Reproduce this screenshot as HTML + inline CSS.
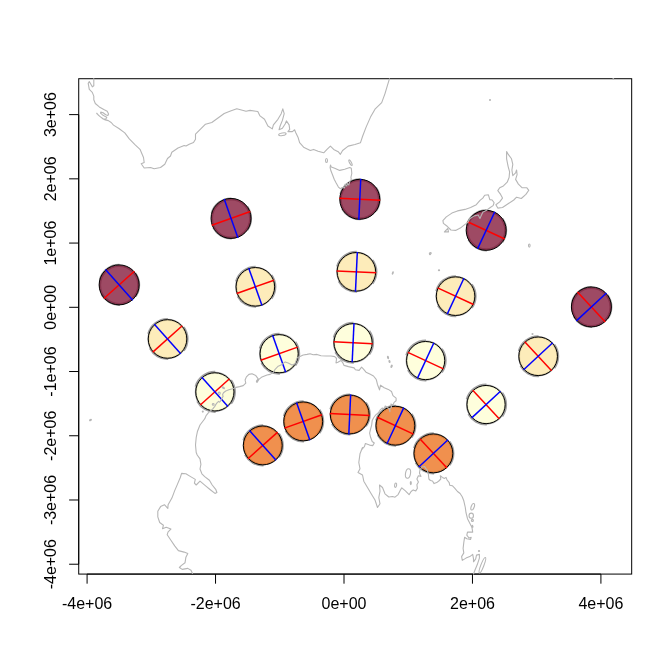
<!DOCTYPE html>
<html lang="en">
<head>
<meta charset="utf-8">
<title>Tissot indicatrix plot</title>
<style>
html,body{margin:0;padding:0;background:#fff;}
body{width:672px;height:672px;overflow:hidden;}
svg{display:block;}
text{font-family:"Liberation Sans",sans-serif;font-size:16px;fill:#000;}
</style>
</head>
<body>
<svg width="672" height="672" viewBox="0 0 672 672">
<rect width="672" height="672" fill="#fff"/>
<g fill="none" stroke="#a6a6a6" stroke-width="2.1">
<circle cx="119.14" cy="284.88" r="19.05"/>
<circle cx="231.04" cy="218.43" r="19.05"/>
<circle cx="359.78" cy="199.31" r="19.05"/>
<circle cx="486.17" cy="230.35" r="19.05"/>
<circle cx="591.4" cy="306.94" r="19.05"/>
<circle cx="167.54" cy="338.96" r="19.05"/>
<circle cx="255.36" cy="286.82" r="19.05"/>
<circle cx="356.39" cy="271.81" r="19.05"/>
<circle cx="455.58" cy="296.17" r="19.05"/>
<circle cx="538.17" cy="356.28" r="19.05"/>
<circle cx="214.89" cy="391.88" r="19.05"/>
<circle cx="279.15" cy="353.72" r="19.05"/>
<circle cx="353.08" cy="342.74" r="19.05"/>
<circle cx="425.66" cy="360.57" r="19.05"/>
<circle cx="486.08" cy="404.55" r="19.05"/>
<circle cx="262.79" cy="445.41" r="19.05"/>
<circle cx="303.22" cy="421.4" r="19.05"/>
<circle cx="349.73" cy="414.49" r="19.05"/>
<circle cx="395.39" cy="425.71" r="19.05"/>
<circle cx="433.4" cy="453.38" r="19.05"/>
</g>
<g fill="none" stroke="#a0a0a0" stroke-width="1.6">
<path d="M135.52,296.78A20.25,20.25 0 0 0 135.52,272.98M119.49,264.63A20.25,20.25 0 0 0 99.58,279.64M101.26,294.39A20.25,20.25 0 0 0 119.84,305.12"/>
<path d="M247.43,230.34A20.25,20.25 0 0 0 247.43,206.53M231.4,198.19A20.25,20.25 0 0 0 211.48,213.19M213.16,227.94A20.25,20.25 0 0 0 231.75,238.67"/>
<path d="M376.16,211.21A20.25,20.25 0 0 0 376.16,187.4M360.13,179.06A20.25,20.25 0 0 0 340.22,194.07M341.9,208.81A20.25,20.25 0 0 0 360.49,219.55"/>
<path d="M502.55,242.25A20.25,20.25 0 0 0 502.55,218.45M486.53,210.11A20.25,20.25 0 0 0 466.61,225.11M468.29,239.86A20.25,20.25 0 0 0 486.88,250.59"/>
<path d="M607.78,318.85A20.25,20.25 0 0 0 607.78,295.04M591.75,286.7A20.25,20.25 0 0 0 571.84,301.7M573.52,316.45A20.25,20.25 0 0 0 592.1,327.18"/>
<path d="M183.92,350.87A20.25,20.25 0 0 0 183.92,327.06M167.89,318.72A20.25,20.25 0 0 0 147.98,333.72M149.66,348.47A20.25,20.25 0 0 0 168.24,359.2"/>
<path d="M271.74,298.72A20.25,20.25 0 0 0 271.74,274.91M255.71,266.57A20.25,20.25 0 0 0 235.8,281.58M237.48,296.32A20.25,20.25 0 0 0 256.07,307.06"/>
<path d="M372.78,283.71A20.25,20.25 0 0 0 372.78,259.91M356.75,251.56A20.25,20.25 0 0 0 336.83,266.57M338.51,281.32A20.25,20.25 0 0 0 357.1,292.05"/>
<path d="M471.97,308.07A20.25,20.25 0 0 0 471.97,284.27M455.94,275.93A20.25,20.25 0 0 0 436.02,290.93M437.7,305.68A20.25,20.25 0 0 0 456.29,316.41"/>
<path d="M554.55,368.18A20.25,20.25 0 0 0 554.55,344.38M538.52,336.03A20.25,20.25 0 0 0 518.61,351.04M520.29,365.79A20.25,20.25 0 0 0 538.87,376.52"/>
<path d="M231.27,403.78A20.25,20.25 0 0 0 231.27,379.98M215.24,371.63A20.25,20.25 0 0 0 195.33,386.64M197.01,401.39A20.25,20.25 0 0 0 215.6,412.12"/>
<path d="M295.54,365.63A20.25,20.25 0 0 0 295.54,341.82M279.51,333.48A20.25,20.25 0 0 0 259.59,348.48M261.27,363.23A20.25,20.25 0 0 0 279.86,373.96"/>
<path d="M369.46,354.64A20.25,20.25 0 0 0 369.46,330.84M353.43,322.49A20.25,20.25 0 0 0 333.52,337.5M335.2,352.25A20.25,20.25 0 0 0 353.79,362.98"/>
<path d="M442.04,372.47A20.25,20.25 0 0 0 442.04,348.67M426.01,340.32A20.25,20.25 0 0 0 406.1,355.33M407.78,370.08A20.25,20.25 0 0 0 426.37,380.81"/>
<path d="M502.47,416.45A20.25,20.25 0 0 0 502.47,392.65M486.44,384.3A20.25,20.25 0 0 0 466.52,399.31M468.2,414.06A20.25,20.25 0 0 0 486.79,424.79"/>
<path d="M279.17,457.31A20.25,20.25 0 0 0 279.17,433.5M263.14,425.16A20.25,20.25 0 0 0 243.23,440.17M244.91,454.91A20.25,20.25 0 0 0 263.5,465.64"/>
<path d="M319.6,433.3A20.25,20.25 0 0 0 319.6,409.5M303.57,401.15A20.25,20.25 0 0 0 283.66,416.16M285.34,430.91A20.25,20.25 0 0 0 303.93,441.64"/>
<path d="M366.11,426.4A20.25,20.25 0 0 0 366.11,402.59M350.08,394.25A20.25,20.25 0 0 0 330.17,409.25M331.85,424A20.25,20.25 0 0 0 350.43,434.73"/>
<path d="M411.77,437.61A20.25,20.25 0 0 0 411.77,413.81M395.74,405.46A20.25,20.25 0 0 0 375.83,420.47M377.51,435.21A20.25,20.25 0 0 0 396.09,445.95"/>
<path d="M449.78,465.28A20.25,20.25 0 0 0 449.78,441.48M433.75,433.13A20.25,20.25 0 0 0 413.84,448.14M415.52,462.88A20.25,20.25 0 0 0 434.11,473.62"/>
</g>
<circle cx="119.14" cy="284.88" r="20.0" fill="#7E0E30" fill-opacity="0.75" stroke="#000" stroke-width="1"/>
<line x1="103.86" y1="298.55" x2="134.41" y2="271.21" stroke="#ff0000" stroke-width="1.5"/>
<line x1="132.81" y1="300.16" x2="105.46" y2="269.6" stroke="#0000ff" stroke-width="1.5"/>
<circle cx="231.04" cy="218.43" r="20.0" fill="#7E0E30" fill-opacity="0.75" stroke="#000" stroke-width="1"/>
<line x1="211.73" y1="225.3" x2="250.36" y2="211.56" stroke="#ff0000" stroke-width="1.5"/>
<line x1="237.91" y1="237.75" x2="224.18" y2="199.12" stroke="#0000ff" stroke-width="1.5"/>
<circle cx="359.78" cy="199.31" r="20.0" fill="#7E0E30" fill-opacity="0.75" stroke="#000" stroke-width="1"/>
<line x1="339.3" y1="198.35" x2="380.26" y2="200.26" stroke="#ff0000" stroke-width="1.5"/>
<line x1="358.82" y1="219.79" x2="360.74" y2="178.83" stroke="#0000ff" stroke-width="1.5"/>
<circle cx="486.17" cy="230.35" r="20.0" fill="#7E0E30" fill-opacity="0.75" stroke="#000" stroke-width="1"/>
<line x1="467.58" y1="221.71" x2="504.76" y2="238.99" stroke="#ff0000" stroke-width="1.5"/>
<line x1="477.53" y1="248.94" x2="494.81" y2="211.76" stroke="#0000ff" stroke-width="1.5"/>
<circle cx="591.4" cy="306.94" r="20.0" fill="#7E0E30" fill-opacity="0.75" stroke="#000" stroke-width="1"/>
<line x1="577.46" y1="291.91" x2="605.33" y2="321.98" stroke="#ff0000" stroke-width="1.5"/>
<line x1="576.36" y1="320.88" x2="606.43" y2="293.01" stroke="#0000ff" stroke-width="1.5"/>
<circle cx="167.54" cy="338.96" r="19.3" fill="#FCE6A3" fill-opacity="0.75" stroke="#000" stroke-width="1"/>
<line x1="152.78" y1="352.17" x2="182.29" y2="325.76" stroke="#ff0000" stroke-width="1.5"/>
<line x1="180.74" y1="353.72" x2="154.33" y2="324.21" stroke="#0000ff" stroke-width="1.5"/>
<circle cx="255.36" cy="286.82" r="19.3" fill="#FCE6A3" fill-opacity="0.75" stroke="#000" stroke-width="1"/>
<line x1="236.71" y1="293.45" x2="274.02" y2="280.18" stroke="#ff0000" stroke-width="1.5"/>
<line x1="262" y1="305.47" x2="248.73" y2="268.16" stroke="#0000ff" stroke-width="1.5"/>
<circle cx="356.39" cy="271.81" r="19.3" fill="#FCE6A3" fill-opacity="0.75" stroke="#000" stroke-width="1"/>
<line x1="336.61" y1="270.88" x2="376.17" y2="272.73" stroke="#ff0000" stroke-width="1.5"/>
<line x1="355.47" y1="291.59" x2="357.32" y2="252.03" stroke="#0000ff" stroke-width="1.5"/>
<circle cx="455.58" cy="296.17" r="19.3" fill="#FCE6A3" fill-opacity="0.75" stroke="#000" stroke-width="1"/>
<line x1="437.63" y1="287.83" x2="473.54" y2="304.52" stroke="#ff0000" stroke-width="1.5"/>
<line x1="447.24" y1="314.13" x2="463.93" y2="278.22" stroke="#0000ff" stroke-width="1.5"/>
<circle cx="538.17" cy="356.28" r="19.3" fill="#FCE6A3" fill-opacity="0.75" stroke="#000" stroke-width="1"/>
<line x1="524.71" y1="341.76" x2="551.62" y2="370.8" stroke="#ff0000" stroke-width="1.5"/>
<line x1="523.64" y1="369.74" x2="552.69" y2="342.82" stroke="#0000ff" stroke-width="1.5"/>
<circle cx="214.89" cy="391.88" r="19.1" fill="#FEFED0" fill-opacity="0.75" stroke="#000" stroke-width="1"/>
<line x1="200.28" y1="404.95" x2="229.5" y2="378.81" stroke="#ff0000" stroke-width="1.5"/>
<line x1="227.96" y1="406.49" x2="201.82" y2="377.27" stroke="#0000ff" stroke-width="1.5"/>
<circle cx="279.15" cy="353.72" r="19.1" fill="#FEFED0" fill-opacity="0.75" stroke="#000" stroke-width="1"/>
<line x1="260.69" y1="360.29" x2="297.62" y2="347.16" stroke="#ff0000" stroke-width="1.5"/>
<line x1="285.72" y1="372.19" x2="272.59" y2="335.26" stroke="#0000ff" stroke-width="1.5"/>
<circle cx="353.08" cy="342.74" r="19.1" fill="#FEFED0" fill-opacity="0.75" stroke="#000" stroke-width="1"/>
<line x1="333.5" y1="341.83" x2="372.66" y2="343.66" stroke="#ff0000" stroke-width="1.5"/>
<line x1="352.16" y1="362.32" x2="353.99" y2="323.16" stroke="#0000ff" stroke-width="1.5"/>
<circle cx="425.66" cy="360.57" r="19.1" fill="#FEFED0" fill-opacity="0.75" stroke="#000" stroke-width="1"/>
<line x1="407.88" y1="352.31" x2="443.43" y2="368.83" stroke="#ff0000" stroke-width="1.5"/>
<line x1="417.4" y1="378.34" x2="433.92" y2="342.79" stroke="#0000ff" stroke-width="1.5"/>
<circle cx="486.08" cy="404.55" r="19.1" fill="#FEFED0" fill-opacity="0.75" stroke="#000" stroke-width="1"/>
<line x1="472.76" y1="390.18" x2="499.41" y2="418.93" stroke="#ff0000" stroke-width="1.5"/>
<line x1="471.71" y1="417.87" x2="500.46" y2="391.23" stroke="#0000ff" stroke-width="1.5"/>
<circle cx="262.79" cy="445.41" r="19.45" fill="#EB6B13" fill-opacity="0.75" stroke="#000" stroke-width="1"/>
<line x1="247.92" y1="458.71" x2="277.66" y2="432.1" stroke="#ff0000" stroke-width="1.5"/>
<line x1="276.09" y1="460.27" x2="249.49" y2="430.54" stroke="#0000ff" stroke-width="1.5"/>
<circle cx="303.22" cy="421.4" r="19.45" fill="#EB6B13" fill-opacity="0.75" stroke="#000" stroke-width="1"/>
<line x1="284.42" y1="428.09" x2="322.02" y2="414.72" stroke="#ff0000" stroke-width="1.5"/>
<line x1="309.9" y1="440.2" x2="296.53" y2="402.6" stroke="#0000ff" stroke-width="1.5"/>
<circle cx="349.73" cy="414.49" r="19.45" fill="#EB6B13" fill-opacity="0.75" stroke="#000" stroke-width="1"/>
<line x1="329.8" y1="413.56" x2="369.65" y2="415.42" stroke="#ff0000" stroke-width="1.5"/>
<line x1="348.8" y1="434.42" x2="350.66" y2="394.56" stroke="#0000ff" stroke-width="1.5"/>
<circle cx="395.39" cy="425.71" r="19.45" fill="#EB6B13" fill-opacity="0.75" stroke="#000" stroke-width="1"/>
<line x1="377.3" y1="417.3" x2="413.48" y2="434.12" stroke="#ff0000" stroke-width="1.5"/>
<line x1="386.98" y1="443.8" x2="403.79" y2="407.62" stroke="#0000ff" stroke-width="1.5"/>
<circle cx="433.4" cy="453.38" r="19.45" fill="#EB6B13" fill-opacity="0.75" stroke="#000" stroke-width="1"/>
<line x1="419.84" y1="438.75" x2="446.96" y2="468.01" stroke="#ff0000" stroke-width="1.5"/>
<line x1="418.77" y1="466.94" x2="448.03" y2="439.82" stroke="#0000ff" stroke-width="1.5"/>
<g fill="none" stroke="#000" stroke-width="1">
<rect x="78.72" y="78.72" width="552.96" height="495.36"/>
<path d="M87.08,574.08H600.92M87.08,574.08v9.6M215.54,574.08v9.6M344,574.08v9.6M472.46,574.08v9.6M600.92,574.08v9.6M78.72,564.22V114.61M78.72,564.22h-9.6M78.72,499.99h-9.6M78.72,435.76h-9.6M78.72,371.53h-9.6M78.72,307.3h-9.6M78.72,243.07h-9.6M78.72,178.84h-9.6M78.72,114.61h-9.6"/>
</g>
<g text-anchor="middle">
<text x="87.08" y="609">-4e+06</text>
<text x="215.54" y="609">-2e+06</text>
<text x="344" y="609">0e+00</text>
<text x="472.46" y="609">2e+06</text>
<text x="600.92" y="609">4e+06</text>
<text transform="translate(56.4 564.22) rotate(-90)">-4e+06</text>
<text transform="translate(56.4 499.99) rotate(-90)">-3e+06</text>
<text transform="translate(56.4 435.76) rotate(-90)">-2e+06</text>
<text transform="translate(56.4 371.53) rotate(-90)">-1e+06</text>
<text transform="translate(56.4 307.3) rotate(-90)">0e+00</text>
<text transform="translate(56.4 243.07) rotate(-90)">1e+06</text>
<text transform="translate(56.4 178.84) rotate(-90)">2e+06</text>
<text transform="translate(56.4 114.61) rotate(-90)">3e+06</text>
</g>
<g fill="none" stroke="#b6b6b6" stroke-width="1.1" stroke-linejoin="round" stroke-linecap="round">
<path d="M93.8,78.6L93.8,85.7L92.3,86.8L89.3,81.6L88.2,83.4L89.3,89.4L92.3,92.4L93.8,96.1L93.8,99.8L95.3,103.5L99.3,106.9L103.8,109.5L107.2,111.3L108.6,113.9L107.9,115.4L105.7,114.7L103.1,112.8L100.8,112.1L100.5,113.2L102.3,114.7L105.3,116.6L106.8,117.3L105.7,119.2L103.1,118.8L100.1,116.6L97.1,113.9L96.7,113.2L98.6,115.4L102.3,118.4L105.3,119.9L108.3,120.6L111.2,122.5L113.5,125.1L118.9,128.5L124.8,132.9L129.3,138.9L135.2,144.8L140,149.3L143.5,157.5L144.2,162.5L141.2,163.8L144.2,168L150.5,167.5L154.2,168.8L160.5,167.5L164.8,164.2L167.5,158.5L170.5,156L171.8,152.2L178,148L184.2,145.5L186,146L189.2,144.2L193.5,142.5L195.5,139.2L195.5,134.2L200.5,129.2L205.5,124.2L211.8,122.5L218,118L224.2,113.5L230.5,111L236.8,108.8L240.5,109.8L246,111.2L250,110.4L257.8,111.5L260,115.9L264.5,119.3L267.9,126L272.3,128.9L273.4,124.9L277.9,119.3L281.2,113.7L282.8,108.8L284.2,113.7L282.4,120.4L280.1,126L279,129.8L282.4,128.2L285.3,123.8L286.4,120.9L289.1,124.9L289.7,129.3L287.9,131.6L292.4,131.6L294.6,129.8L295.8,132.7L298,137.2L299.6,142.7L303.6,147.2L310.3,150.5L313.6,149.4L318.1,151.2L323.7,152.8L327,149.4L330.4,146.1L333.7,149.4L338.2,151.7L340.4,154.3L342.6,150.5L348.2,146.1L354.9,144.5L360.5,142.7L362.7,136L366.1,127.1L370.5,117.1L375,109.2L381.7,102.6L385,93.6L387.3,85.8L389.5,78.7"/>
<path d="M330.5,165L331.3,167.1L334.7,168.3L339.7,170.4L344.7,169.2L349.7,167.5L351.3,168.3L351.8,173.3L350.9,177.5L351.3,179.2L349.7,181.7L348.8,185L347.2,183.3L346.8,186.2L345.1,184.2L344.7,187.9L342.2,187.5L340.5,188.8L338.4,187.1L335.9,182.5L334.2,179.2L332.6,175L330.9,170.8L330.1,167.5Z"/>
<path d="M506.6,151.6L508.1,154.1L511.5,158.8L512.8,164.4L511.9,170L512.8,175.6L515.6,172.8L516.6,170L517.1,174.7L515.6,179.4L518.4,184.1L522.2,187.8L526.9,187.8L528.8,190.3L525.9,194.4L521.3,198.5L516.6,197.2L513.8,200L508.1,203.8L502.5,207.5L497.8,208.1L495.9,204.7L499.7,201.9L502.5,198.1L500.6,194.4L497.8,190.6L499.7,187.8L503.4,185.9L507.2,182.2L509.1,177.5L509.6,171.9L508.1,166.3L506.6,158.8Z"/>
<path d="M488.4,194.8L484.7,195.3L482.8,198.1L480,200.4L476.3,204.7L470.6,207.5L465,209.4L457.5,210.9L451.9,213.1L446.3,216.9L442.9,220.6L443.4,223.4L447.2,226.3L450.9,230L455.6,230.4L460.3,228.1L465,224.4L467.8,222.5L469.7,218.8L474.4,215.9L478.1,215L480,218.4L481.5,215L482.8,212.2L486.6,210.3L490.3,207.5L493.1,205.6L494.1,202.8L492.2,200L489.8,199.6Z"/>
<path d="M444.4,231.9L447.8,228.5L448.5,231.9Z"/>
<path d="M362.3,448.8L364.4,446.7L365.4,443.5L369.6,445.1L372.7,445.6L374.3,443L372.2,441.5L370.6,437.3L369.6,433.1L370.6,429L371.7,424.8L372.2,420.6L373.8,417.5L375.8,414.9L378.4,412.8L380,410.2L382.1,408.1L384.2,408.6L385.2,406L387.3,407.1L389.4,409.2L389.9,411.8L389.9,408.6L391.5,407.6L390.9,404L393,405L394.1,402.4L396.1,400.8L396.1,398.2L393,395.6L391.5,391.5L388.3,389.4L384.2,387.8L380.5,385.2L379.5,389.9L377.4,384.2L376.4,380L376,379.1L373.5,376L369.8,374.1L366,372.2L363.5,369.1L361.6,367.2L359.1,370.4L355.4,369.8L354.1,367.9L348.5,366.6L344.1,365.4L342.9,362.9L341,360.4L337.9,362.2L336,362.9L336.6,358.5L334.8,356.6L331,356L326,356L321,355.8L317,354.4L313.2,354.8L310.1,353.8L307,354.4L303.2,355L298.9,356.9L297,358.1L295.1,363.8L292,365L288.2,363.1L285.1,361.9L282,364.4L278.2,366.2L275.1,369.4L273.2,372.5L270.1,374.4L267,375L262,376.9L258.9,379.4L257,382.5L256.4,381.2L258.2,378.8L255.8,375.6L252,373.8L248.9,374.4L246.4,376.9L245.1,380L245.8,383.1L243.2,385.6L239.6,386.6L236,387.4L232.4,388.8L228.9,389.7L225.7,391L223.5,392.8L222.6,394.6L223.1,396.4L221.7,398.6L220.4,401.3L219.5,402.2L218.6,401.3L217.2,402.6L215.9,404.4L214.6,406.6L212.8,408.9L210.6,410.7L208.3,412.9L206.1,415.6L204.8,418.7L203.8,420L200,425L197.5,431.2L196.2,437.5L195.5,445L196.2,452.5L197.2,455L200,458.8L200.9,464.4L200,469L201.9,473.8L204.7,476.6L209.4,480.3L212.2,485L215.9,489.7L216.9,492.5L215,493.4L210.3,489.7L205.6,485.9L200,481.2L196.2,485L194.4,483.1L195.3,479.4L190.6,476.6L185.9,473.8L181.6,473.4L180.3,477.5L177.5,484.1L174.7,490.6L171.9,498.1L168.1,504.7L167.8,508.4L164.4,504.7L160.6,506.6L157.8,511.2L157.8,516.9L159.7,522.5L163.4,525.3L162.5,528.7L166.2,527.2L170.9,529.1L168.1,531.9L167.2,534.7L170.9,540.3L174.7,545.9L178.4,550.6L184.1,552.1L187.8,553.4L185.9,557.2L185,562.8L181.2,565.6L179.4,567.5L182.2,569.4L187.8,568.4L191,570.3L192.5,573.5"/>
<path d="M362.5,447.5L360,453.8L358.8,462.5L360,468.8L358,472.5L362.5,475L363.8,481.2L367.5,487.5L371.2,493.8L375,500L377.5,507.5L380,503.8L378.8,497.5L380,491.2L379.5,485L382.5,487.5L385,493.8L388.8,497L392.5,496.5L395,497.2L398.1,494.6L400.2,490.4L401.8,487.8L405.4,490.9L409.1,494.6L411.1,491.5L413.2,489.9L415.8,490.9L417.4,488.3L416.9,484.7L418.4,482.1L416.9,479L418.4,475.8L421,476.4L419.5,473.2L420,469.6L422.1,467L424.7,466.5L425.7,468.5L427.3,470.1L428.3,473.8L428.9,479L430.4,480.5L432.5,481L434.1,483.6L436.7,482.6L438.8,481L440.8,479L440.3,475.8L442.4,477.4L444.5,478.4L446,477.4L447.1,480L449.2,482.6L449.7,485.2L452.3,485.7L454.9,488.3L457.5,491.5L460.1,493.5L462.2,496.7L463.8,500.8L465.3,507.5L466,512.7L467.5,518.7L469.8,523.2L472,527.6L472.7,532.1L467.5,532.1L466.8,535.1L469,538L471.2,537.3L470.5,539.5L466.8,538.8L464.6,537.3L463.8,542.5L463.1,548.5L463.8,552.9L461.6,556.6L462.3,560.4L466,558.1L469.8,556.6L472.7,554.4L473.5,558.9L473.5,561.8L475.7,558.9L476.5,555.1L479.4,554.4L479.4,558.1L477.2,564.8L475,570L473.5,574"/>
<ellipse cx="282.4" cy="134.3" rx="3.8" ry="1.3" transform="rotate(-10 282.4 134.3)"/>
<ellipse cx="326.5" cy="160.5" rx="1" ry="2" transform="rotate(0 326.5 160.5)"/>
<ellipse cx="350.5" cy="162.7" rx="0.9" ry="3.1" transform="rotate(-28 350.5 162.7)"/>
<ellipse cx="430.3" cy="253.4" rx="1" ry="0.7" transform="rotate(-30 430.3 253.4)"/>
<ellipse cx="529.3" cy="245.6" rx="0.8" ry="1.6" transform="rotate(0 529.3 245.6)"/>
<ellipse cx="392.8" cy="273" rx="0.4" ry="1.2" transform="rotate(20 392.8 273)"/>
<ellipse cx="439" cy="270.2" rx="0.6" ry="0.5" transform="rotate(0 439 270.2)"/>
<ellipse cx="430" cy="254.3" rx="0.4" ry="0.4" transform="rotate(0 430 254.3)"/>
<ellipse cx="490" cy="100" rx="0.5" ry="0.5" transform="rotate(0 490 100)"/>
<ellipse cx="90.5" cy="420" rx="1" ry="0.5" transform="rotate(-25 90.5 420)"/>
<ellipse cx="532.5" cy="334" rx="0.5" ry="0.5" transform="rotate(0 532.5 334)"/>
<ellipse cx="613.3" cy="78.9" rx="0.4" ry="0.4" transform="rotate(0 613.3 78.9)"/>
<ellipse cx="223.3" cy="387.7" rx="1.3" ry="0.6" transform="rotate(30 223.3 387.7)"/>
<ellipse cx="219.2" cy="393.25" rx="1.1" ry="1.1" transform="rotate(0 219.2 393.25)"/>
<ellipse cx="213.2" cy="404.4" rx="0.9" ry="0.9" transform="rotate(0 213.2 404.4)"/>
<ellipse cx="202.8" cy="411.6" rx="0.5" ry="0.5" transform="rotate(0 202.8 411.6)"/>
<ellipse cx="408" cy="473.5" rx="2.5" ry="4.8" transform="rotate(10 408 473.5)"/>
<ellipse cx="395.6" cy="485.2" rx="1" ry="2.2" transform="rotate(10 395.6 485.2)"/>
<ellipse cx="410.8" cy="483.1" rx="0.5" ry="1.5" transform="rotate(0 410.8 483.1)"/>
<ellipse cx="472.7" cy="506.8" rx="1.5" ry="3.4" transform="rotate(20 472.7 506.8)"/>
<ellipse cx="471.25" cy="515.7" rx="2.2" ry="2.6" transform="rotate(0 471.25 515.7)"/>
<ellipse cx="472.4" cy="520.4" rx="1" ry="1" transform="rotate(0 472.4 520.4)"/>
<ellipse cx="472.4" cy="526.4" rx="0.5" ry="1" transform="rotate(-20 472.4 526.4)"/>
<ellipse cx="479" cy="551" rx="0.6" ry="0.4" transform="rotate(0 479 551)"/>
<ellipse cx="482.4" cy="565.2" rx="1.5" ry="8.3" transform="rotate(21 482.4 565.2)"/>
<ellipse cx="388" cy="357.5" rx="0.5" ry="1.2" transform="rotate(-15 388 357.5)"/>
<ellipse cx="389.5" cy="361.5" rx="0.5" ry="1" transform="rotate(-15 389.5 361.5)"/>
<ellipse cx="391.6" cy="366.3" rx="0.5" ry="1.2" transform="rotate(25 391.6 366.3)"/>
</g>
</svg>
</body>
</html>
